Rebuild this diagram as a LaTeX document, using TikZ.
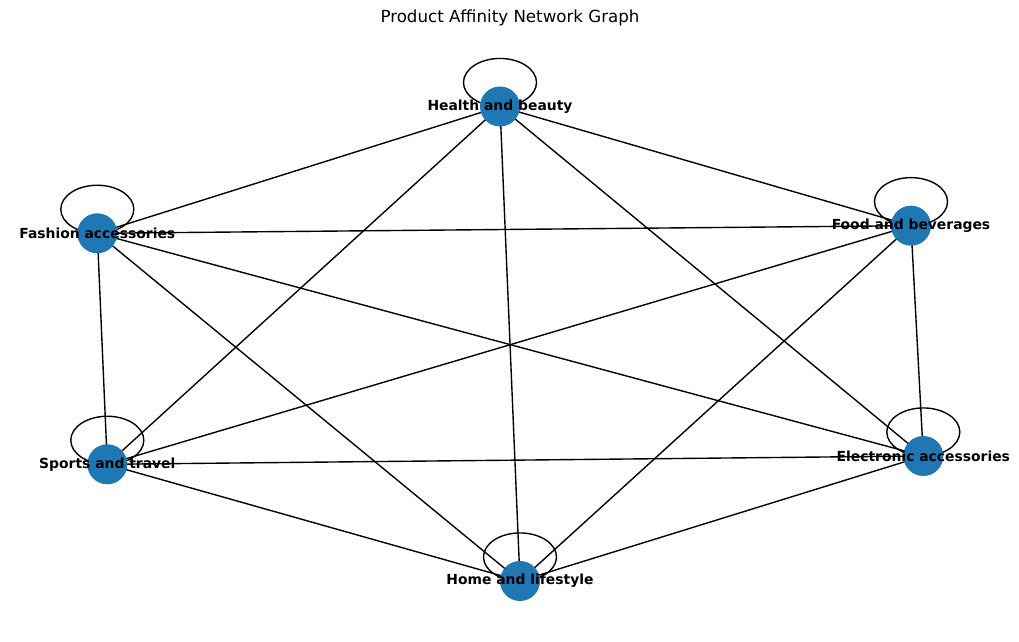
\documentclass[tikz,border=0pt]{standalone}
\usepackage{fontspec}
\setmainfont{DejaVu Sans}
\pgfdeclarelayer{bg}
\pgfsetlayers{bg,main}
\definecolor{nodeblue}{HTML}{1F77B4}
\begin{document}
\begin{tikzpicture}[x=0.72pt,y=-0.72pt,
  vert/.style={circle,fill=nodeblue,minimum size=28.8pt,inner sep=0pt},
  lbl/.style={font=\bfseries\fontsize{10}{12}\selectfont,inner sep=0pt},
  edge/.style={draw=black,line width=1pt},
  selfloop/.style={draw=black,line width=1pt}]
\useasboundingbox (0,0) rectangle (1019,642);
\node[font=\fontsize{12}{14}\selectfont] (title) at (510,18) {Product Affinity Network Graph};
% vertices
\node[vert] (hb) at (500,106.5) {};
\node[vert] (fa) at (97.3,233.3) {};
\node[vert] (fb) at (911,225.7) {};
\node[vert] (st) at (107.3,464.3) {};
\node[vert] (ea) at (923.3,456) {};
\node[vert] (hl) at (520,581) {};
% labels
\node[lbl] (hbl) at (hb) {Health and beauty};
\node[lbl] (fal) at (fa) {Fashion accessories};
\node[lbl] (fbl) at (fb) {Food and beverages};
\node[lbl] (stl) at (st) {Sports and travel};
\node[lbl] (eal) at (ea) {Electronic accessories};
\node[lbl] (hll) at (hl) {Home and lifestyle};
\begin{pgfonlayer}{bg}
  \foreach \a/\b in {hb/fa,hb/fb,hb/st,hb/hl,hb/ea,fa/fb,fa/st,fa/hl,fa/ea,fb/st,fb/hl,fb/ea,st/ea,st/hl,ea/hl}
    \draw[edge] (\a.center) -- (\b.center);
  \foreach \n in {hb,fa,fb,st,ea,hl}
    \draw[selfloop] ([yshift=17.3pt]\n.center) ellipse [x radius=26.3pt, y radius=17.3pt];
\end{pgfonlayer}
\end{tikzpicture}
\end{document}
